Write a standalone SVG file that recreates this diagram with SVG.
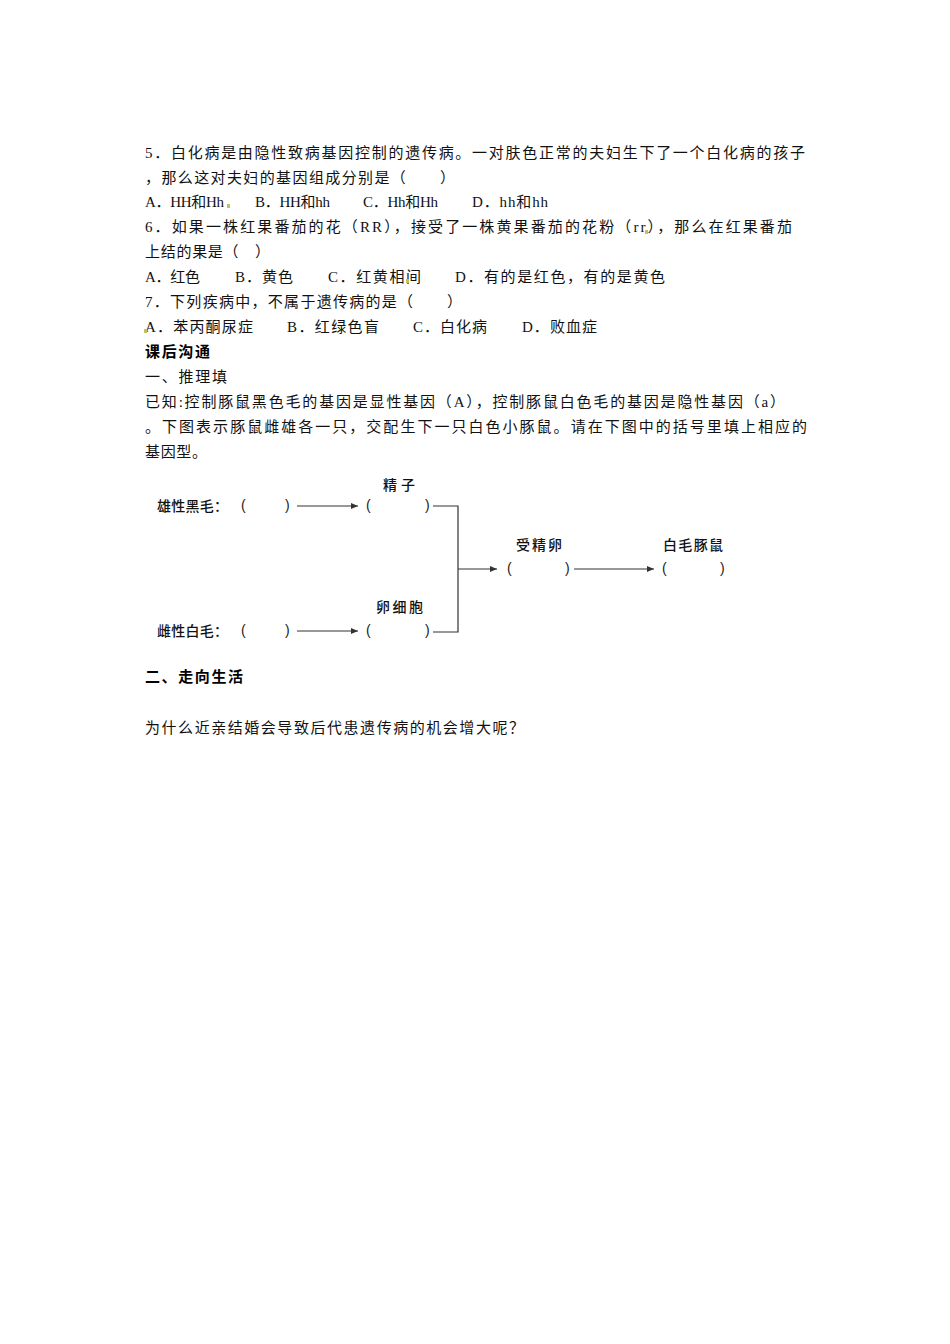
<svg xmlns="http://www.w3.org/2000/svg" width="950" height="1344" viewBox="0 0 950 1344">
<style>
.b{font-family:"Liberation Serif","Noto Sans CJK SC",serif;font-size:15px;fill:#111}
.h{font-family:"Noto Sans CJK SC",sans-serif;font-size:15px;font-weight:bold;fill:#000}
.q{font-family:"Noto Sans CJK SC",sans-serif;font-size:15px;fill:#111}
.d{font-family:"Noto Sans CJK SC",sans-serif;font-size:14px;font-weight:500;fill:#111}
.p{font-family:"Liberation Sans",sans-serif;font-size:14px;fill:#222}
.c{fill:none;stroke:#333;stroke-width:1.2}
.m{fill:#c8bf5a}
</style>
<defs>
<marker id="ah" markerUnits="userSpaceOnUse" markerWidth="8" markerHeight="6" refX="7" refY="3" orient="auto">
<path d="M0,0 L7,3 L0,6 Z" fill="#333"/>
</marker>
</defs>
<rect width="950" height="1344" fill="#fff"/>
<g id="text">
<text class="b" x="145" y="158" textLength="660" lengthAdjust="spacing">5．白化病是由隐性致病基因控制的遗传病。一对肤色正常的夫妇生下了一个白化病的孩子</text>
<text class="b" x="145" y="183" textLength="310" lengthAdjust="spacing">，那么这对夫妇的基因组成分别是（　　）</text>
<text class="b" x="145" y="207" letter-spacing="-0.3">A．HH和Hh</text>
<text class="b" x="255" y="207" textLength="75" lengthAdjust="spacing">B．HH和hh</text>
<text class="b" x="363" y="207" textLength="75" lengthAdjust="spacing">C．Hh和Hh</text>
<text class="b" x="472" y="207" textLength="76" lengthAdjust="spacing">D．hh和hh</text>
<text class="b" x="145" y="232" textLength="647" lengthAdjust="spacing">6．如果一株红果番茄的花（RR），接受了一株黄果番茄的花粉（rr），那么在红果番茄</text>
<text class="b" x="145" y="257" textLength="125" lengthAdjust="spacing">上结的果是（　）</text>
<text class="b" x="145" y="282" textLength="55" lengthAdjust="spacing">A．红色</text>
<text class="b" x="235" y="282" textLength="58" lengthAdjust="spacing">B．黄色</text>
<text class="b" x="328" y="282" textLength="93" lengthAdjust="spacing">C．红黄相间</text>
<text class="b" x="455" y="282" textLength="210" lengthAdjust="spacing">D．有的是红色，有的是黄色</text>
<text class="b" x="145" y="307" textLength="317" lengthAdjust="spacing">7．下列疾病中，不属于遗传病的是（　　）</text>
<text class="b" x="145" y="332" textLength="108" lengthAdjust="spacing">A．苯丙酮尿症</text>
<text class="b" x="287" y="332" textLength="92" lengthAdjust="spacing">B．红绿色盲</text>
<text class="b" x="413" y="332" textLength="74" lengthAdjust="spacing">C．白化病</text>
<text class="b" x="522" y="332" textLength="75" lengthAdjust="spacing">D．败血症</text>
<text class="h" x="145" y="357" textLength="65" lengthAdjust="spacing">课后沟通</text>
<text class="b" x="145" y="382" textLength="82" lengthAdjust="spacing">一、推理填</text>
<text class="b" x="145" y="407" textLength="640" lengthAdjust="spacing">已知:控制豚鼠黑色毛的基因是显性基因（A），控制豚鼠白色毛的基因是隐性基因（a）</text>
<text class="b" x="145" y="432" textLength="662" lengthAdjust="spacing">。下图表示豚鼠雌雄各一只，交配生下一只白色小豚鼠。请在下图中的括号里填上相应的</text>
<text class="b" x="145" y="457" textLength="62" lengthAdjust="spacing">基因型。</text>
<text class="h" x="145" y="682" textLength="98" lengthAdjust="spacing">二、走向生活</text>
<text class="q" x="145" y="733" textLength="379" lengthAdjust="spacing">为什么近亲结婚会导致后代患遗传病的机会增大呢？</text>
<rect class="m" x="227" y="204" width="3" height="4"/>
<rect class="m" x="645" y="230" width="3" height="4"/>
<rect class="m" x="406" y="279" width="3" height="4"/>
<rect class="m" x="144" y="329" width="3" height="4"/>
<rect class="m" x="581" y="404" width="3" height="4"/>
</g>
<g id="connectors">
<line class="c" x1="297" y1="506" x2="358" y2="506" marker-end="url(#ah)"/>
<line class="c" x1="297" y1="631" x2="358" y2="631" marker-end="url(#ah)"/>
<path class="c" d="M433,506 H458 V632 H433"/>
<line class="c" x1="458" y1="569" x2="497" y2="569" marker-end="url(#ah)"/>
<line class="c" x1="574" y1="569" x2="654" y2="569" marker-end="url(#ah)"/>
</g>
<g id="male">
<text class="d" x="157" y="511" textLength="71" lengthAdjust="spacing">雄性黑毛：</text>
<text class="p" x="241 285" y="510">()</text>
</g>
<g id="sperm">
<text class="d" x="383" y="490" textLength="32" lengthAdjust="spacing">精子</text>
<text class="p" x="366 425" y="510">()</text>
</g>
<g id="female">
<text class="d" x="157" y="636" textLength="71" lengthAdjust="spacing">雌性白毛：</text>
<text class="p" x="241 285" y="635">()</text>
</g>
<g id="egg">
<text class="d" x="376" y="612" textLength="47" lengthAdjust="spacing">卵细胞</text>
<text class="p" x="366 425" y="635">()</text>
</g>
<g id="zygote">
<text class="d" x="516" y="550" textLength="46" lengthAdjust="spacing">受精卵</text>
<text class="p" x="507 565" y="573">()</text>
</g>
<g id="offspring">
<text class="d" x="663" y="550" textLength="60" lengthAdjust="spacing">白毛豚鼠</text>
<text class="p" x="662 720" y="573">()</text>
</g>
</svg>
